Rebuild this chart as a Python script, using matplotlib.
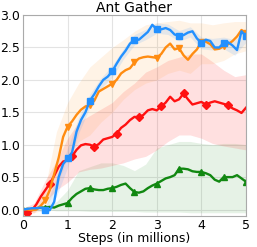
import numpy as np
import matplotlib
matplotlib.use("Agg")
import matplotlib.pyplot as plt

title = "Ant Gather"
xlabel = "Steps (in millions)"
xticks = [0, 1, 2, 3, 4, 5]
yticks = [0.0, 0.5, 1.0, 1.5, 2.0, 2.5, 3.0]

steps = [round(0.1 * i, 1) for i in range(51)]

blue = [0.0, 0.01, 0.02, 0.02, 0.03, 0.0, -0.01, 0.12, 0.5, 0.7,
        0.79, 0.88, 1.2, 1.38, 1.5, 1.68, 1.78, 1.9, 2.0, 2.05,
        2.13, 2.25, 2.36, 2.45, 2.56, 2.62, 2.62, 2.68, 2.74, 2.85,
        2.78, 2.78, 2.8, 2.77, 2.7, 2.68, 2.69, 2.73, 2.75, 2.64,
        2.57, 2.62, 2.6, 2.5, 2.5, 2.57, 2.58, 2.53, 2.46, 2.75, 2.67]
orange = [0.0, 0.0, -0.01, 0.0, 0.06, 0.14, 0.3, 0.55, 0.8, 1.12,
          1.28, 1.36, 1.46, 1.54, 1.59, 1.61, 1.68, 1.82, 1.86, 1.9,
          1.94, 2.0, 2.1, 2.15, 2.18, 2.27, 2.33, 2.35, 2.36, 2.35,
          2.34, 2.4, 2.5, 2.56, 2.47, 2.49, 2.38, 2.31, 2.4, 2.47,
          2.59, 2.59, 2.55, 2.47, 2.48, 2.52, 2.55, 2.6, 2.67, 2.77, 2.72]
red = [-0.01, -0.06, -0.01, 0.08, 0.2, 0.3, 0.4, 0.52, 0.66, 0.74,
       0.76, 0.82, 0.92, 0.99, 1.01, 1.0, 0.97, 1.01, 1.08, 1.1,
       1.12, 1.17, 1.26, 1.31, 1.38, 1.43, 1.42, 1.46, 1.53, 1.55,
       1.53, 1.59, 1.65, 1.74, 1.67, 1.7, 1.79, 1.7, 1.62, 1.64,
       1.66, 1.62, 1.65, 1.67, 1.65, 1.63, 1.61, 1.56, 1.53, 1.49, 1.57]
green = [0.0, 0.01, 0.0, 0.02, 0.03, 0.03, 0.04, 0.03, 0.06, 0.08,
         0.1, 0.18, 0.24, 0.28, 0.32, 0.33, 0.31, 0.3, 0.3, 0.32,
         0.33, 0.35, 0.38, 0.4, 0.33, 0.27, 0.26, 0.28, 0.33, 0.37,
         0.4, 0.44, 0.48, 0.5, 0.53, 0.63, 0.63, 0.62, 0.59, 0.58,
         0.58, 0.56, 0.53, 0.46, 0.43, 0.5, 0.5, 0.5, 0.53, 0.48, 0.43]

band_steps = [0.25 * i for i in range(21)]
blue_hi = [0.02, 0.05, 0.03, 0.5, 0.95, 1.42, 1.78, 2.03, 2.22, 2.48, 2.7,
           2.78, 2.88, 2.86, 2.76, 2.82, 2.66, 2.64, 2.66, 2.62, 2.76]
blue_lo = [-0.02, -0.01, -0.03, 0.2, 0.65, 1.18, 1.58, 1.87, 2.04, 2.32, 2.54,
           2.62, 2.72, 2.7, 2.6, 2.66, 2.48, 2.46, 2.48, 2.38, 2.58]
orange_hi = [0.02, 0.05, 0.35, 1.2, 1.65, 1.95, 2.2, 2.35, 2.5, 2.62, 2.75,
             2.85, 2.88, 2.9, 2.92, 2.88, 2.88, 2.85, 2.88, 2.9, 2.9]
orange_lo = [-0.02, -0.05, 0.0, 0.35, 0.8, 1.05, 1.15, 1.35, 1.5, 1.7, 1.85,
             1.95, 2.0, 2.1, 2.15, 2.1, 2.25, 2.25, 2.3, 2.4, 2.45]
red_hi = [0.02, 0.1, 0.45, 0.75, 1.1, 1.35, 1.45, 1.55, 1.65, 1.82, 1.95,
          2.12, 2.2, 2.3, 2.35, 2.4, 2.4, 2.28, 2.15, 2.05, 2.08]
red_lo = [-0.08, -0.05, 0.12, 0.3, 0.42, 0.58, 0.62, 0.64, 0.68, 0.72, 0.78,
          0.82, 0.92, 1.05, 1.15, 1.15, 1.1, 1.02, 0.98, 0.95, 0.92]
green_hi = [0.02, 0.04, 0.06, 0.12, 0.3, 0.6, 0.66, 0.72, 0.72, 0.68, 0.6,
            0.7, 0.95, 1.0, 1.05, 1.05, 1.02, 1.0, 1.02, 1.02, 1.0]
green_lo = [-0.02, -0.02, 0.0, -0.02, -0.02, -0.02, -0.03, -0.03, -0.03, -0.03, -0.03,
            -0.04, -0.04, -0.04, -0.04, -0.05, -0.05, -0.05, -0.05, -0.05, -0.05]

plt.rcParams['font.family'] = ['DejaVu Sans']
fig = plt.figure(figsize=(2.57, 2.47), dpi=100)
ax = fig.add_axes([0.0895, 0.1255, 0.8675, 0.8135])

series = [
    (green, green_lo, green_hi, '#118811', '^', 0, 0.10),
    (red, red_lo, red_hi, '#ff1111', 'D', 1, 0.13),
    (orange, orange_lo, orange_hi, '#ff8c11', 'v', 5, 0.10),
    (blue, blue_lo, blue_hi, '#2290ff', 's', 5, 0.12),
]
for vals, lo, hi, col, mk, off, a in series:
    ax.fill_between(band_steps, lo, hi, color=col, alpha=a, linewidth=0)
for vals, lo, hi, col, mk, off, a in series:
    ax.plot(steps, vals, color=col, lw=1.7, marker=mk, markersize=4.5,
            markevery=(off, 5))

ax.set_xlim(0, 5)
ax.set_ylim(-0.1, 3.0)
ax.set_xticks(xticks)
ax.set_yticks(yticks)
ax.set_yticklabels([f"{v:.1f}" for v in yticks])
ax.tick_params(length=0, labelsize=9, pad=2)
ax.tick_params(axis='x', pad=2)
ax.grid(True, color='#e3e3e3', lw=0.8)
ax.set_axisbelow(True)
for s in ax.spines.values():
    s.set_color('#aaaaaa')
    s.set_linewidth(0.8)
ax.set_title(title, fontsize=10, pad=1.5)
ax.set_xlabel(xlabel, fontsize=9, labelpad=0)
fig.savefig("out.png", dpi=100)
